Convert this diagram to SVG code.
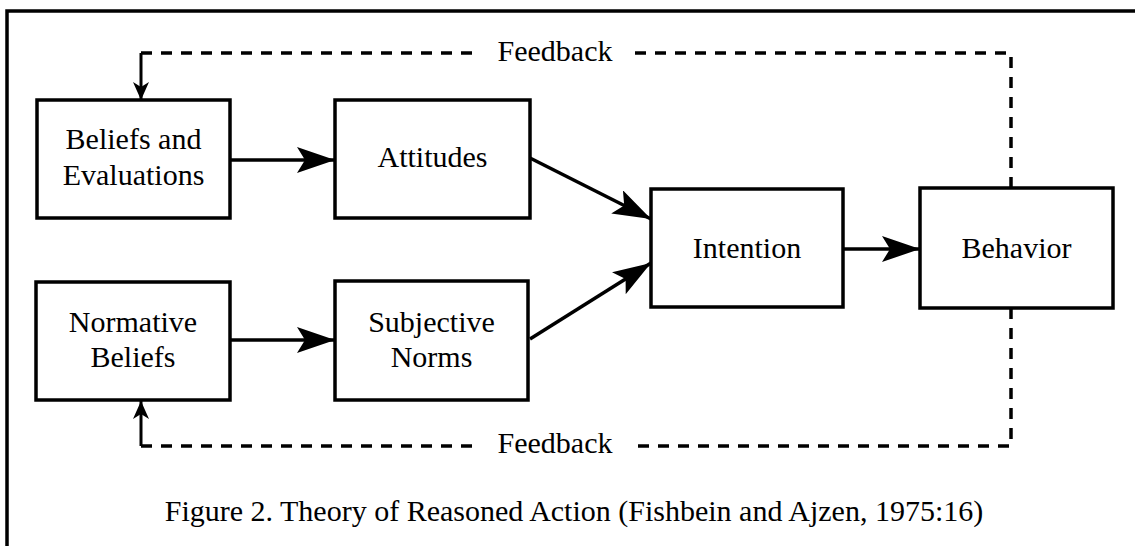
<svg xmlns="http://www.w3.org/2000/svg" width="1135" height="546" viewBox="0 0 1135 546">
<style>
.box{fill:#fff;stroke:#000;stroke-width:3.5}
.t{font-family:"Liberation Serif","Times New Roman",serif;font-size:30px;fill:#000;text-anchor:middle}
.cap{font-family:"Liberation Serif","Times New Roman",serif;font-size:30px;fill:#000;text-anchor:middle}
.arr{stroke:#000;stroke-width:3.5;fill:none;marker-end:url(#big)}
.dash{stroke:#000;stroke-width:3.5;fill:none;stroke-dasharray:11 9}
.fb{stroke:#000;stroke-width:3;fill:none;marker-end:url(#small)}
</style>
<defs>
<marker id="big" markerUnits="userSpaceOnUse" viewBox="0 0 38 26" refX="38" refY="13" markerWidth="38" markerHeight="26" orient="auto">
<path d="M0,0 L38,13 L0,26 L8,13 Z" fill="#000"/>
</marker>
<marker id="small" markerUnits="userSpaceOnUse" viewBox="0 0 18 16" refX="18" refY="8" markerWidth="18" markerHeight="16" orient="auto">
<path d="M0,0 L18,8 L0,16 L5,8 Z" fill="#000"/>
</marker>
</defs>
<rect width="1135" height="546" fill="#fff"/>
<path d="M7,546 V11 H1135" fill="none" stroke="#000" stroke-width="3.5"/>

<g id="connectors">
<line class="arr" x1="230" y1="160" x2="335" y2="160"/>
<line class="arr" x1="230" y1="340" x2="335" y2="340"/>
<line class="arr" x1="530" y1="158" x2="651" y2="219"/>
<line class="arr" x1="530" y1="339" x2="651" y2="263"/>
<line class="arr" x1="843" y1="249" x2="920" y2="249"/>
<g id="feedback-top">
<path class="dash" d="M1011,188 V53 H630"/>
<path class="dash" d="M472,53 H141"/>
<line class="fb" x1="141" y1="53" x2="141" y2="100"/>
<text class="t" x="555" y="61">Feedback</text>
</g>
<g id="feedback-bottom">
<path class="dash" d="M1011,308 V446 H630"/>
<path class="dash" d="M472,446 H141"/>
<line class="fb" x1="141" y1="446" x2="141" y2="401"/>
<text class="t" x="555" y="453">Feedback</text>
</g>
</g>

<g id="beliefs">
<rect class="box" x="37" y="100" width="193" height="118"/>
<text class="t" x="133.5" y="149">Beliefs and</text>
<text class="t" x="133.5" y="185">Evaluations</text>
</g>
<g id="attitudes">
<rect class="box" x="335" y="100" width="195" height="118"/>
<text class="t" x="432.5" y="167">Attitudes</text>
</g>
<g id="normative">
<rect class="box" x="36" y="282" width="194" height="118"/>
<text class="t" x="133" y="332">Normative</text>
<text class="t" x="133" y="367">Beliefs</text>
</g>
<g id="subjective">
<rect class="box" x="335" y="281" width="193" height="119"/>
<text class="t" x="431.5" y="332">Subjective</text>
<text class="t" x="431.5" y="367">Norms</text>
</g>
<g id="intention">
<rect class="box" x="651" y="189" width="192" height="118"/>
<text class="t" x="747" y="258">Intention</text>
</g>
<g id="behavior">
<rect class="box" x="920" y="188" width="193" height="120"/>
<text class="t" x="1016.5" y="258">Behavior</text>
</g>
<text class="cap" x="574" y="521">Figure 2. Theory of Reasoned Action (Fishbein and Ajzen, 1975:16)</text>
</svg>
